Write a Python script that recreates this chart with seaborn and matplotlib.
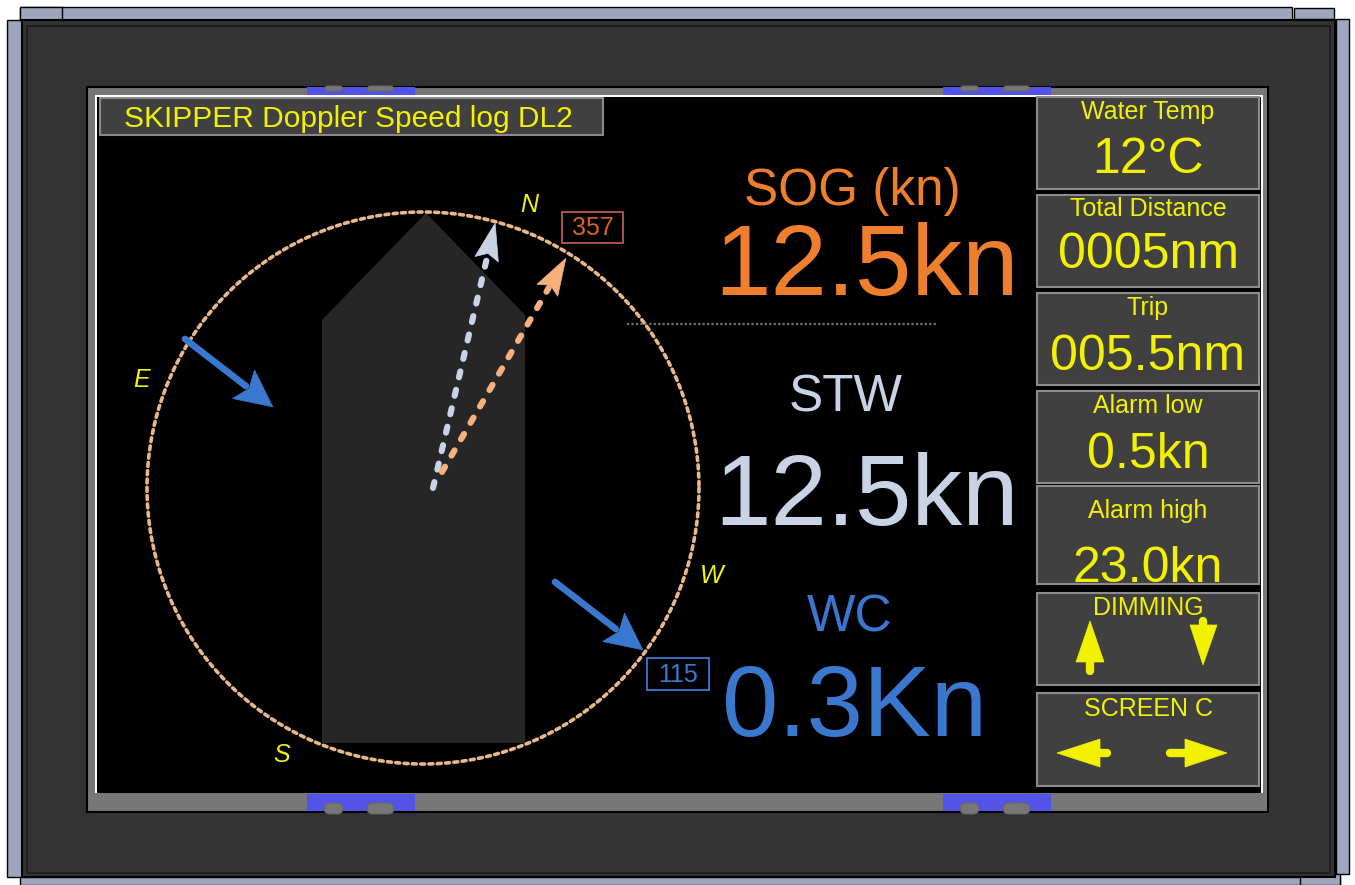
import numpy as np
import matplotlib
matplotlib.use("Agg")
import matplotlib.pyplot as plt
import seaborn as sns
from matplotlib.patches import Rectangle, Polygon, FancyBboxPatch

# ---------------- data ----------------
title_text = "SKIPPER Doppler Speed log DL2"
readout_labels = ["SOG (kn)", "STW", "WC"]
readout_values = [12.5, 12.5, 0.3]
readout_units = ["kn", "kn", "Kn"]
panel_labels = ["Water Temp", "Total Distance", "Trip", "Alarm low", "Alarm high"]
water_temp = 12
total_distance = 5
trip_distance = 5.5
alarm_low = 0.5
alarm_high = 23.0
button_labels = ["DIMMING", "SCREEN C"]
compass_labels = ["N", "E", "W", "S"]
compass_bearings = [20.5, 291.0, 107.0, 208.0]
heading_value = 357
current_value = 115
vector_names = ["STW", "SOG"]
vector_bearings = [13.2, 30.1]
vector_lengths = [272, 247]
current_bearing = 127.7
current_length = 111

# ---------------- style ----------------
sns.set_theme(style="white")
plt.rcParams['font.family'] = ['Liberation Sans', 'DejaVu Sans']

YEL = "#f2f200"
ORANGE = "#ef7f2c"
LIGHT = "#c8d4e6"
BLUE = "#3a78d0"
FRAME = "#9ea5bd"

fig = plt.figure(figsize=(13.55, 8.85), dpi=100, facecolor="white")
ax = fig.add_axes([0, 0, 1, 1])


def rect(x, y, w, h, fc, ec="none", lw=0, z=1, **kw):
    ax.add_patch(Rectangle((x, y), w, h, facecolor=fc, edgecolor=ec, linewidth=lw, zorder=z, **kw))


# outer frame
rect(7, 20, 15, 857, FRAME, "black", 1, 1)
rect(20, 7, 1272, 13, FRAME, "black", 1, 1)
rect(1294, 8, 40, 11, FRAME, "black", 1, 1)
rect(20, 7, 42, 13, FRAME, "black", 1, 1.1)
rect(1336, 19, 13, 855, FRAME, "black", 1, 1)
rect(20, 877, 1320, 8, FRAME, "black", 1, 1)
rect(1300, 874, 40, 11, FRAME, "black", 1, 1.1)
rect(22, 20, 1313, 857, "#333333", "black", 1.5, 2)
rect(27, 26, 1303, 847, "none", "#1c1c1c", 1.2, 2.1)

# bezel
rect(87, 87, 1181, 725, "#777777", "black", 1.5, 3)
for tx in [307, 943]:
    rect(tx, 87, 108, 9, "#5353e8", z=3.2)
    rect(tx, 794, 108, 17, "#5353e8", z=3.2)
    for bx, bw in [(tx + 17, 19), (tx + 60, 27)]:
        ax.add_patch(FancyBboxPatch((bx, 86), bw, 5, boxstyle="round,pad=0,rounding_size=4",
                                    fc="#777777", ec="#666666", lw=0.8, zorder=3.3))
        ax.add_patch(FancyBboxPatch((bx, 803), bw, 11, boxstyle="round,pad=0,rounding_size=6",
                                    fc="#777777", ec="#666666", lw=0.8, zorder=3.3))

# screen
rect(95, 95, 1168, 698, "white", z=4)
rect(97, 97, 1164, 696, "black", z=4.1)

# title box
rect(100, 98, 503, 37, "#404040", "#8a8a8a", 1.5, 5)
ax.text(124, 127, title_text, color=YEL, fontsize=21.5, ha="left", va="baseline", zorder=6)

# ---------------- compass ----------------
cx, cy, R = 423, 488, 276
ship = Polygon([(322, 320), (426, 213), (525, 315), (525, 743), (322, 743)],
               closed=True, fc="#262626", ec="none", zorder=5)
ax.add_patch(ship)

theta = np.linspace(0, 2 * np.pi, 721)
sns.lineplot(x=cx + R * np.cos(theta), y=cy + R * np.sin(theta), sort=False, estimator=None,
             ax=ax, color="#e8b88c", linewidth=2.6, linestyle=(0, (1.1, 1.2)),
             dash_capstyle="round", zorder=6)

for lab, b in zip(compass_labels, compass_bearings):
    rb = np.radians(b)
    ax.text(cx + 302 * np.sin(rb), cy - 302 * np.cos(rb) + 7, lab, color=YEL, fontsize=18,
            style="italic", ha="center", va="baseline", zorder=7)


def unit(b):
    rb = np.radians(b)
    return np.array([np.sin(rb), -np.cos(rb)]), np.array([np.cos(rb), np.sin(rb)])


def vector(tail, bearing, length, color, hl, hw, notch, lw, ls):
    d, n = unit(bearing)
    tail = np.array(tail, float)
    tip = tail + d * length
    base = tip - d * hl
    ax.plot([tail[0], base[0] + d[0] * 3], [tail[1], base[1] + d[1] * 3], color=color, lw=lw,
            linestyle=ls, dash_capstyle="round", solid_capstyle="round", zorder=7)
    pts = [tip, base + n * hw, base + d * notch, base - n * hw]
    ax.add_patch(Polygon(pts, closed=True, fc=color, ec=color, lw=0.5, zorder=8))


vec_tails = [(433, 488), (442, 472)]
vec_colors = [LIGHT, "#f6b07c"]
for t, b, L, c in zip(vec_tails, vector_bearings, vector_lengths, vec_colors):
    vector(t, b, L, c, 37, 12, 6, 4.4, (0, (1.0, 2.1)))

for t in [(185, 339), (555, 582)]:
    vector(t, current_bearing, current_length, BLUE, 37, 18, 7, 4.8, "-")

# value boxes on compass
rect(562, 212, 61, 31, "none", "#b85a4c", 1.3, 7)
ax.text(592.5, 235, f"{heading_value}", color="#d8641c", fontsize=18, ha="center", va="baseline", zorder=8)
rect(647, 658, 62, 32, "none", BLUE, 1.3, 7)
ax.text(678, 682, f"{current_value}", color=BLUE, fontsize=18, ha="center", va="baseline", zorder=8)

# ---------------- readouts ----------------
read_colors = [ORANGE, LIGHT, BLUE]
label_pos = [(852, 205), (846, 412), (850, 631)]
value_pos = [(866, 295), (866, 525), (855, 736)]
for lab, v, u, c, lp, vp in zip(readout_labels, readout_values, readout_units, read_colors, label_pos, value_pos):
    ax.text(lp[0], lp[1], lab, color=c, fontsize=37, ha="center", va="baseline", zorder=8)
    ax.text(vp[0], vp[1], f"{v:.1f}{u}", color=c, fontsize=73, ha="center", va="baseline", zorder=8)

ax.plot([627, 937], [324, 324], color="#707070", lw=1.6, linestyle=(0, (1, 1)), zorder=8)

# ---------------- right panel ----------------
panel_values = [f"{water_temp}°C", f"{total_distance:04d}nm", f"{trip_distance:05.1f}nm",
                f"{alarm_low:.1f}kn", f"{alarm_high:.1f}kn"]
box_tops = [97, 195, 293, 391, 486, 593, 693]
box_h = [92, 92, 92, 92, 98, 92, 93]
for top, h in zip(box_tops, box_h):
    rect(1037, top, 222, h, "#404040", "#8c8c8c", 1.5, 5)
bx = 1148
lab_base = [119, 216, 315, 413, 518]
val_base = [173, 268, 370, 468, 582]
for lab, val, lb, vb in zip(panel_labels, panel_values, lab_base, val_base):
    ax.text(bx, lb, lab, color=YEL, fontsize=18, ha="center", va="baseline", zorder=8)
    ax.text(bx, vb, val, color=YEL, fontsize=36, ha="center", va="baseline", zorder=8)
for lab, lb in zip(button_labels, [615, 716]):
    ax.text(bx, lb, lab, color=YEL, fontsize=18, ha="center", va="baseline", zorder=8)

# dimming arrows
ax.add_patch(Polygon([(1090, 621), (1104, 662), (1076, 662)], closed=True, fc=YEL, ec=YEL, lw=0.5, zorder=8))
ax.plot([1090, 1090], [660, 671], color=YEL, lw=6, solid_capstyle="round", zorder=8)
ax.add_patch(Polygon([(1203, 665), (1190, 625), (1217, 625)], closed=True, fc=YEL, ec=YEL, lw=0.5, zorder=8))
ax.plot([1203, 1203], [621, 627], color=YEL, lw=6, solid_capstyle="round", zorder=8)
# screen arrows
ax.add_patch(Polygon([(1057, 753), (1100, 739), (1100, 767)], closed=True, fc=YEL, ec=YEL, lw=0.5, zorder=8))
ax.plot([1098, 1107], [753, 753], color=YEL, lw=6, solid_capstyle="round", zorder=8)
ax.add_patch(Polygon([(1227, 753), (1185, 739), (1185, 767)], closed=True, fc=YEL, ec=YEL, lw=0.5, zorder=8))
ax.plot([1170, 1187], [753, 753], color=YEL, lw=6, solid_capstyle="round", zorder=8)

ax.set_xlim(0, 1355)
ax.set_ylim(885, 0)
ax.axis("off")

fig.savefig("out.png", dpi=100, facecolor="white")
